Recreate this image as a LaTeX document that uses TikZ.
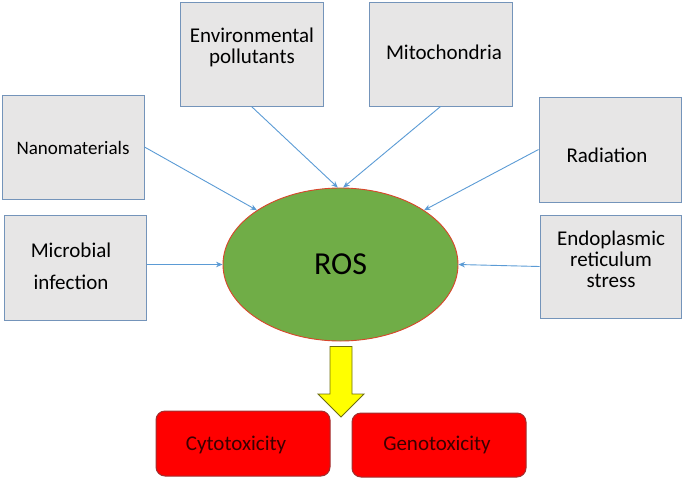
\documentclass[tikz,border=0pt]{standalone}
\usepackage{fontspec}
\setmainfont{Carlito}
\usetikzlibrary{shapes.geometric,arrows.meta}
\definecolor{boxfill}{HTML}{E7E6E6}
\definecolor{boxdraw}{HTML}{7494BA}
\definecolor{arrowblue}{HTML}{5B9BD5}
\definecolor{rosgreen}{HTML}{70AD47}
\definecolor{rosdraw}{HTML}{D9452B}
\definecolor{redfill}{HTML}{FF0000}
\definecolor{reddraw}{HTML}{A03030}
\definecolor{redtext}{HTML}{3A0000}
\definecolor{yellowfill}{HTML}{FFFF00}
\definecolor{yellowdraw}{HTML}{6E6E10}
\tikzset{
  srcbox/.style={draw=boxdraw, fill=boxfill, line width=1pt, minimum width=142pt, minimum height=104pt, inner sep=0pt},
  lbl/.style={align=center, inner sep=0pt, font=\fontsize{21}{21}\selectfont},
  feed/.style={draw=arrowblue, line width=0.9pt, -{Stealth[length=6.5pt,width=5.5pt]}},
  resbox/.style={draw=reddraw, fill=redfill, line width=1pt, rounded corners=9pt, minimum width=174pt, minimum height=64pt, inner sep=0pt}
}
\begin{document}
\begin{tikzpicture}[x=1pt,y=-1pt]
\useasboundingbox (0,0) rectangle (684,479);
% source boxes
\node[srcbox, minimum width=143pt] (env) at (251.5,54) {};
\node[srcbox, minimum width=143pt] (mito) at (440.5,54) {};
\node[srcbox] (nano) at (73,147) {};
\node[srcbox, minimum height=105pt] (rad) at (610,149.5) {};
\node[srcbox, minimum height=105pt] (mic) at (75,267.5) {};
\node[srcbox, minimum width=141pt, minimum height=103pt] (endo) at (610.5,266.5) {};
% labels
\node[lbl] (envt) at (252,47) {Environmental\\pollutants};
\node[lbl] (mitot) at (444,52) {Mitochondria};
\node[lbl, font=\fontsize{19}{19}\selectfont] (nanot) at (73,148) {Nanomaterials};
\node[lbl] (radt) at (607,155) {Radiation};
\node[lbl, font=\fontsize{21}{32}\selectfont] (mict) at (71,266) {Microbial\\infection};
\node[lbl] (endot) at (611,259) {Endoplasmic\\reticulum\\stress};
% ROS
\node[ellipse, draw=rosdraw, fill=rosgreen, line width=0.9pt, minimum width=235pt, minimum height=153pt, inner sep=0pt, font=\fontsize{32}{32}\selectfont] (ros) at (340.5,264.5) {ROS};
% feeding arrows
\draw[feed] (env.south) -- (ros.92.5);
\draw[feed] (mito.south) -- (ros.88);
\draw[feed] (nano.east) -- (ros.147);
\draw[feed] (rad.west) -- (ros.33);
\draw[feed] (ros.west -| mic.east) -- (ros.west);
\draw[feed] (endo.west) -- (ros.east);
% result boxes
\node[resbox, minimum height=65pt] (cyto) at (243,443.5) {};
\node[resbox] (geno) at (439,445) {};
\node[lbl, text=redtext] (cytot) at (236,445) {Cytotoxicity};
\node[lbl, text=redtext] (genot) at (437,445) {Genotoxicity};
% yellow block arrow (drawn over the boxes)
\draw[draw=yellowdraw, fill=yellowfill, line width=0.9pt, line join=miter]
  (330,346.5) -- (352,346.5) -- (352,394) -- (364,394) -- (341,417) -- (318,394) -- (330,394) -- cycle;
\end{tikzpicture}
\end{document}
